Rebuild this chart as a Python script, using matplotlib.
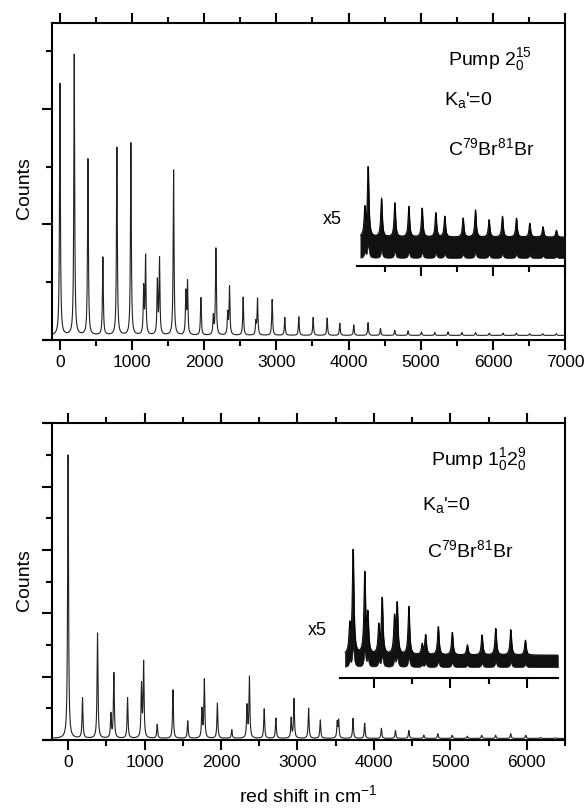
import numpy as np
import matplotlib.pyplot as plt
from matplotlib.ticker import MultipleLocator, NullFormatter

plt.rcParams['font.family'] = ['Liberation Sans', 'DejaVu Sans']
plt.rcParams['mathtext.fontset'] = 'custom'
plt.rcParams['mathtext.rm'] = 'Liberation Sans'
plt.rcParams['mathtext.it'] = 'Liberation Sans:italic'

# ---- Pump 2^15_0 : peak positions (cm-1) and peak tops (counts, arb.)
top_base = 0.08
top_pos = [0, 198, 388, 595, 789, 983, 1160, 1187, 1350, 1380, 1575, 1745, 1768,
           1953, 2125, 2161, 2325, 2350, 2539, 2715, 2738, 2941, 3116, 3310, 3509,
           3703, 3878, 4072, 4270, 4442, 4640, 4825, 5010, 5194, 5378, 5570, 5760,
           5950, 6140, 6325, 6510, 6690, 6880]
top_val = [4.44, 4.94, 3.13, 1.43, 3.33, 3.41, 0.88, 1.43, 1.0, 1.39, 2.94, 0.8, 0.98,
           0.73, 0.4, 1.58, 0.45, 0.91, 0.74, 0.3, 0.71, 0.70, 0.39, 0.40, 0.39,
           0.38, 0.29, 0.26, 0.30, 0.20, 0.17, 0.16, 0.14, 0.13, 0.14, 0.13, 0.13,
           0.12, 0.12, 0.12, 0.11, 0.11, 0.11]

# x5 trace of the tail (Pump 2^15_0)
top_ins_lo, top_ins_hi = 1.42, 1.78
top_ins_pos = [4224, 4270, 4455, 4640, 4834, 5018, 5208, 5332, 5586, 5757, 5946,
               6131, 6325, 6510, 6693, 6879]
top_ins_val = [2.25, 2.97, 2.45, 2.37, 2.31, 2.28, 2.2, 2.14, 2.11, 2.25, 2.08,
               2.14, 2.11, 2.02, 1.96, 1.9]

# ---- Pump 1^1_0 2^9_0
bot_base = 0.05
bot_pos = [0, 189, 385, 560, 599, 778, 960, 988, 1166, 1372, 1565, 1750, 1782,
           1953, 2141, 2340, 2372, 2565, 2718, 2918, 2955, 3146, 3299, 3520, 3539,
           3727, 3879, 4098, 4282, 4457, 4653, 4836, 5024, 5221, 5409, 5592, 5789,
           5986, 6180, 6370]
bot_val = [9.0, 1.32, 3.37, 0.8, 2.1, 1.33, 1.7, 2.42, 0.49, 1.58, 0.6, 0.95, 1.89,
           1.16, 0.32, 1.06, 1.97, 0.98, 0.69, 0.68, 1.29, 1.0, 0.63, 0.55, 0.6,
           0.68, 0.53, 0.37, 0.3, 0.3, 0.15, 0.2, 0.15, 0.12, 0.15, 0.15, 0.2,
           0.15, 0.08, 0.07]

bot_ins_lo, bot_ins_hi = 2.3, 2.68
bot_ins_pos = [3683, 3727, 3879, 3919, 4063, 4107, 4268, 4303, 4456, 4630, 4675,
               4841, 5024, 5221, 5413, 5592, 5789, 5980]
bot_ins_val = [3.52, 5.94, 5.2, 3.86, 3.54, 4.42, 3.79, 4.23, 4.2, 3.0, 3.3,
               3.57, 3.39, 3.0, 3.31, 3.52, 3.48, 3.15]


def spectrum(x, pos, val, base, gamma):
    y = np.full_like(x, base)
    for p, v in zip(pos, val):
        y += (v - base) * gamma**2 / ((x - p)**2 + gamma**2)
    return y


def style_axes(ax, xmaj, ymaj):
    ax.xaxis.set_major_locator(MultipleLocator(xmaj))
    ax.xaxis.set_minor_locator(MultipleLocator(xmaj / 2))
    ax.yaxis.set_major_locator(MultipleLocator(ymaj))
    ax.yaxis.set_minor_locator(MultipleLocator(ymaj / 2))
    ax.yaxis.set_major_formatter(NullFormatter())
    ax.tick_params(which='both', direction='out', width=1.5, top=True, right=False,
                   labelsize=12.5, pad=4)
    ax.tick_params(which='major', length=7)
    ax.tick_params(which='minor', length=4)
    for s in ax.spines.values():
        s.set_linewidth(1.5)
    ax.plot([-0.018, 0], [0, 0], transform=ax.transAxes, clip_on=False,
            color='black', lw=1.5, solid_capstyle='butt')


def add_inset(ax, x0, x1, y0, y1, pos, val, lo, hi):
    ins = ax.inset_axes([x0, y0, x1 - x0, y1 - y0], transform=ax.transData)
    ins.set_xlim(x0, x1)
    ins.set_ylim(y0, y1)
    ins.patch.set_alpha(0)
    for k in ['top', 'left', 'right']:
        ins.spines[k].set_visible(False)
    ins.spines['bottom'].set_linewidth(1.5)
    ins.xaxis.set_major_locator(MultipleLocator(1000))
    ins.xaxis.set_minor_locator(MultipleLocator(500))
    ins.xaxis.set_major_formatter(NullFormatter())
    ins.set_yticks([])
    ins.tick_params(which='both', direction='out', width=1.5)
    ins.tick_params(which='major', length=7)
    ins.tick_params(which='minor', length=4)
    xs = np.linspace(pos[0] - 60 if pos[0] - 60 > x0 else x0 + 20, x1, 6000)
    prof = spectrum(xs, pos, val, hi, 12) - hi
    ins.fill_between(xs, lo + 0.2 * prof, hi + prof, color='#111111', lw=0.5)
    ins.plot(xs, hi + prof, color='black', lw=0.7)
    return ins


fig = plt.figure(figsize=(5.87, 8.09), dpi=100)
ax1 = fig.add_axes([0.0886, 0.5797, 0.874, 0.392])
ax2 = fig.add_axes([0.0886, 0.0853, 0.874, 0.3915])

# top panel
x1 = np.linspace(-110, 7000, 16000)
ax1.plot(x1, spectrum(x1, top_pos, top_val, top_base, 7), color='#222222', lw=0.8)
ax1.set_xlim(-110, 7000)
ax1.set_ylim(0, 5.49)
style_axes(ax1, 1000, 2)
ax1.set_ylabel('Counts', fontsize=14)
ax1.yaxis.set_label_coords(-0.038, 0.48)
add_inset(ax1, 4118, 7000, 1.28, 3.2, top_ins_pos, top_ins_val, top_ins_lo, top_ins_hi)
ax1.text(0.772, 0.883, r'Pump $\mathregular{2^{15}_{0}}$', transform=ax1.transAxes,
         fontsize=14, va='center', ha='left')
ax1.text(0.765, 0.757, r"$\mathregular{K_a}$'=0", transform=ax1.transAxes,
         fontsize=14, va='center', ha='left')
ax1.text(0.771, 0.606, r'C$^{79}$Br$^{81}$Br', transform=ax1.transAxes,
         fontsize=14, va='center', ha='left')
ax1.text(0.546, 0.379, 'x5', transform=ax1.transAxes, fontsize=13,
         va='center', ha='center')

# bottom panel
x2 = np.linspace(-210, 6500, 16000)
ax2.plot(x2, spectrum(x2, bot_pos, bot_val, bot_base, 7), color='#222222', lw=0.8)
ax2.set_xlim(-210, 6500)
ax2.set_ylim(0, 10)
style_axes(ax2, 1000, 2)
ax2.plot([-0.018, 0], [1, 1], transform=ax2.transAxes, clip_on=False,
         color='black', lw=1.5, solid_capstyle='butt')
ax2.set_ylabel('Counts', fontsize=14)
ax2.yaxis.set_label_coords(-0.038, 0.505)
ax2.set_xlabel(r'red shift in cm$^{-1}$', fontsize=14, labelpad=10)
add_inset(ax2, 3552, 6405, 1.95, 6.2, bot_ins_pos, bot_ins_val, bot_ins_lo, bot_ins_hi)
ax2.text(0.738, 0.884, r'Pump $\mathregular{1^{1}_{0}2^{9}_{0}}$', transform=ax2.transAxes,
         fontsize=14, va='center', ha='left')
ax2.text(0.722, 0.742, r"$\mathregular{K_a}$'=0", transform=ax2.transAxes,
         fontsize=14, va='center', ha='left')
ax2.text(0.731, 0.6, r'C$^{79}$Br$^{81}$Br', transform=ax2.transAxes,
         fontsize=14, va='center', ha='left')
ax2.text(0.517, 0.347, 'x5', transform=ax2.transAxes, fontsize=13,
         va='center', ha='center')

fig.savefig('out.png', dpi=100)
